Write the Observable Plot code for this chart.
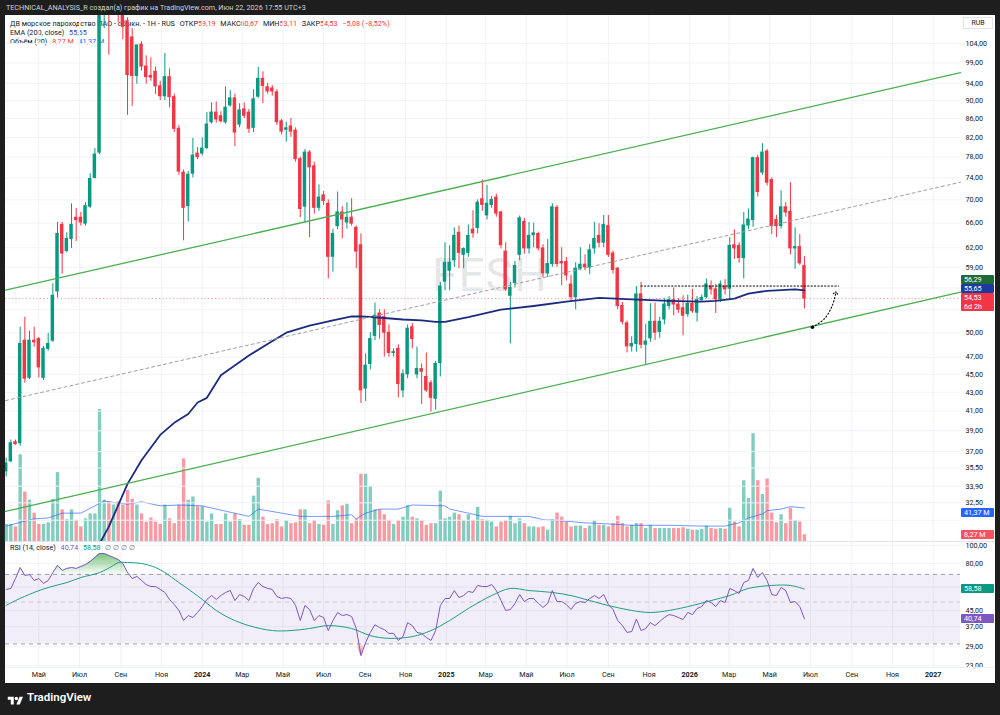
<!DOCTYPE html>
<html><head><meta charset="utf-8">
<script src="https://cdn.jsdelivr.net/npm/d3@7"></script>
<script src="https://cdn.jsdelivr.net/npm/@observablehq/plot@0.6"></script>
<style>
html,body{margin:0;padding:0}
body{width:1000px;height:715px;background:#1e1e1e;overflow:hidden;position:relative;font-family:Roboto,"Noto Sans",sans-serif}
.abs{position:absolute}
.pane{position:absolute;left:0;width:1000px;overflow:hidden}
.box{position:absolute;left:961px;width:33px;color:#fff;font-size:7.2px;line-height:9px;padding-left:3px;box-sizing:border-box;border-radius:1px}
.lg{position:absolute;left:10px;font-size:7.2px;line-height:9px;color:#131722;white-space:nowrap}
.lg span{margin-left:3px}
</style></head><body>
<div class="abs" style="left:5px;top:15px;width:990px;height:668px;background:#fff"></div>
<div class="abs" style="left:6px;top:0;height:15px;line-height:15px;font-size:7.2px;color:#d1d4dc;white-space:nowrap">TECHNICAL_ANALYSIS_R создал(а) график на TradingView.com, Июн 22, 2026 17:55 UTC+3</div>
<div class="abs" style="left:432px;top:252px;font-size:46px;line-height:46px;color:rgba(120,123,134,0.2);letter-spacing:1px">FESH</div>
<div class="lg" style="top:18.5px">ДВ морское пароходство ПАО - обыкн. - 1Н - RUS <span>ОТКР<b style="font-weight:400;color:#f23645">59,19</b></span> <span>МАКС<b style="font-weight:400;color:#f23645">60,67</b></span> <span>МИН<b style="font-weight:400;color:#f23645">53,11</b></span> <span>ЗАКР<b style="font-weight:400;color:#f23645">54,53</b></span> <span style="color:#f23645">−5,08 (−8,52%)</span></div>
<div class="lg" style="top:27.5px">EMA (200, close) <span style="color:#2a3fae">55,65</span></div>
<div class="lg" style="top:36.5px">Объём (20) <span style="color:#f23645">8,27 M</span> <span style="color:#2962ff">41,37 M</span></div>
<div id="volWrap" class="pane" style="top:15px;height:526px"></div>
<div id="mainWrap" class="pane" style="top:15px;height:526px"></div>
<div class="abs" style="left:5px;top:541px;width:990px;height:1px;background:#e0e3eb"></div>
<div id="rsiWrap" class="pane" style="top:541px;height:142px"></div>
<div class="abs" style="left:5px;top:667px;width:990px;height:1px;background:#eef0f3"></div>
<div class="lg" style="top:542.5px">RSI (14, close) <span style="color:#7e57c2">40,74</span> <span style="color:#089981">58,58</span> <span style="color:#787b86">∅ ∅ ∅ ∅</span></div>
<div class="abs" style="left:963px;top:17px;width:30px;height:12px;border:1px solid #e0e3eb;box-sizing:border-box;font-size:7px;line-height:10px;text-align:center;color:#131722;background:#fff">RUB</div>
<div id="labels"></div>
<div class="abs" style="left:7px;top:692px;width:17px;height:12px">
<svg width="17" height="12" viewBox="0 0 36 28"><path d="M14 22H7V11H0V4h14v18z" fill="#fff"/><circle cx="20" cy="8" r="4" fill="#fff"/><path d="M28 22h-8L27.5 4h8L28 22z" fill="#fff"/></svg></div>
<div class="abs" style="left:27px;top:689px;font-size:11.5px;line-height:16px;font-weight:600;color:#fff">TradingView</div>
<script>
// ---------- data (weekly candles from 2023-03-13) ----------
const firstWeek = [2023, 2, 13];
const opens = [35.2,36.1,37.9,37.8,49.0,44.6,49.0,49.2,44.6,48.0,
49.0,55.5,65.7,61.5,63.4,66.9,66.9,65.9,68.8,74.0,
78.9,112,120,114,117,113,110,105.6,95.8,103.7,
98.1,95.8,96.8,93.3,91.0,95.5,90.8,83.8,75.0,68.9,
74.8,78.7,78.7,79.8,85.2,87.3,86.5,85.2,88.9,90.5,
84.7,88.0,87.3,84.0,90.9,95.1,93.1,92.8,91.9,85.4,
83.6,84.3,83.4,77.6,68.8,78.9,76.2,68.6,70.8,69.3,
60.6,65.5,67.8,66.1,66.9,65.2,62.4,43.4,46.2,49.6,
52.5,52.0,50.0,47.5,48.0,43.2,45.0,50.7,45.0,45.6,
44.7,44.0,42.3,46.3,56.9,58.5,60.1,64.4,60.9,61.2,
64.9,65.2,70.1,67.3,69.1,70.4,67.8,61.4,54.9,56.7,
60.9,66.2,61.9,64.0,64.2,61.9,58.1,59.5,68.6,59.8,
59.8,56.5,54.7,58.8,59.4,59.0,61.9,63.9,62.8,65.5,
61.1,58.8,53.5,51.2,48.3,48.6,55.1,48.5,49.3,51.4,
50.1,51.7,53.5,54.3,53.7,53.2,52.4,53.8,52.6,54.3,
54.7,56.2,55.8,54.4,56.2,55.9,62.4,62.3,60.4,65.6,
66.5,77.8,75.0,79.1,73.6,66.5,65.5,68.7,67.9,61.9,
62.1,59.19];
const highs = [36.4,38.1,38.1,50.7,52.0,50.2,50.7,49.4,48.3,49.9,
56.6,66.1,66.1,64.4,69.3,68.5,67.8,69.5,74.8,79.7,
114,122,124,121,119,115,111,108,103.5,104.5,
100.8,100.3,98.0,94.5,101.4,97.5,91.5,84.5,75.5,75.2,
81.8,79.9,81.9,87.3,89.5,89.7,87.5,93.2,92.3,91.5,
89.3,89.5,88.0,92.5,97.9,96.8,94.0,93.5,92.5,85.8,
85.2,86.0,84.0,78.0,79.5,79.3,77.0,72.7,71.5,70.0,
65.0,71.4,68.8,69.5,70.2,65.5,64.2,47.4,50.0,53.9,
53.0,53.0,51.0,48.0,48.5,45.5,51.0,51.2,48.2,46.2,
47.5,44.3,46.5,56.8,62.8,62.3,65.2,65.5,62.0,65.7,
68.1,70.0,73.6,72.6,70.6,71.0,68.0,62.8,56.8,59.9,
67.2,66.8,66.1,66.0,64.5,62.5,63.3,69.3,69.0,62.0,
60.5,57.8,59.7,62.0,60.9,62.5,66.1,65.9,67.3,67.3,
61.5,59.0,54.0,51.5,49.5,56.2,56.8,51.1,53.8,53.9,
52.0,54.5,54.8,56.0,54.5,54.9,55.0,55.8,54.8,55.0,
57.3,57.0,56.5,57.0,57.2,63.6,64.9,62.8,67.8,68.4,
78.0,78.4,80.7,79.5,74.0,67.3,71.6,69.5,73.1,65.2,
64.1,60.67];
const lows = [34.7,36.0,37.6,37.5,44.0,44.4,48.2,44.6,44.3,47.7,
48.8,54.6,58.0,61.2,61.9,63.0,65.5,65.5,68.5,73.8,
78.5,108,101,112,109.7,105,86.7,88.7,93.8,97.0,
93.8,94.5,91.4,90.0,90.0,88.4,83.0,74.5,63.1,66.2,
74.0,77.5,78.2,79.5,84.8,85.0,85.0,84.8,88.5,80.1,
84.0,86.0,82.8,83.0,90.5,89.3,91.5,91.0,84.5,82.5,
81.0,82.0,77.0,66.9,66.0,63.6,67.5,68.0,69.0,57.3,
58.3,64.9,63.4,65.0,65.5,58.8,41.8,42.0,45.5,49.0,
49.2,47.0,47.0,47.0,42.4,42.4,44.5,48.0,44.5,41.7,
43.0,40.9,41.1,44.7,55.6,55.6,59.0,58.8,58.8,60.5,
63.5,64.2,68.0,66.5,68.5,67.0,61.8,55.5,48.6,56.0,
60.0,61.0,61.0,62.0,61.5,57.5,57.5,59.0,59.0,56.3,
57.0,54.0,53.0,58.5,58.5,57.9,61.0,62.0,62.0,60.5,
58.0,53.0,51.0,47.5,47.6,47.6,48.0,46.0,48.8,49.0,
49.3,51.0,53.0,52.2,52.5,49.6,52.0,52.5,51.4,54.0,
54.5,55.0,52.5,54.0,55.0,54.3,60.2,59.6,57.3,64.9,
65.3,70.5,74.5,72.5,64.1,63.6,65.0,67.0,60.9,58.7,
59.3,53.11];
const closes = [35.9,37.8,37.7,48.6,44.5,49.0,48.8,45.8,48.0,48.6,
54.9,64.2,61.1,63.4,65.7,66.5,66.1,68.9,73.8,78.5,
113,119,114,116,113,108.5,96.0,95.8,103.5,98.1,
95.5,95.4,93.3,91.0,95.5,90.8,83.8,75.2,68.6,74.6,
78.3,78.0,79.7,84.7,87.3,85.8,85.4,88.4,90.5,83.0,
87.8,86.6,83.8,90.3,95.1,93.4,92.1,92.1,85.2,83.2,
83.9,83.2,77.6,68.4,78.9,76.0,68.6,70.4,69.8,60.6,
64.2,67.8,66.6,66.9,65.9,61.4,43.2,46.0,49.2,52.2,
51.0,50.0,47.5,47.6,43.9,45.0,50.5,49.2,45.6,45.3,
43.2,42.4,46.2,56.2,59.7,59.7,63.9,61.2,61.8,63.9,
64.3,69.5,69.1,69.3,70.0,67.6,62.4,55.8,56.0,59.2,
66.8,61.9,63.9,64.3,61.9,58.1,59.5,68.7,59.5,59.6,
57.8,54.7,58.8,59.4,59.0,61.6,63.4,62.8,65.7,60.9,
58.6,53.5,51.4,48.3,48.6,55.1,48.5,48.9,51.4,50.0,
51.4,53.7,54.3,53.7,53.0,52.2,53.8,52.8,54.3,54.6,
56.5,55.8,54.4,56.5,55.8,62.3,61.9,60.4,65.6,66.6,
77.8,71.4,78.9,73.1,65.5,65.5,68.7,67.8,61.9,62.1,
59.61,54.53];
const volumesM = [21,21,18,107,61,51,35,21,21,23,
52,85,39,27,39,26,18,28,34,34,
163,51,49,45,49,45,63,52,45,34,
24,29,24,21,45,28,22,45,102,51,
55,43,43,24,34,21,21,34,24,34,
27,20,20,56,78,30,21,22,27,18,
26,22,23,39,39,22,26,21,20,50,
21,38,44,46,22,28,83,83,68,39,
39,33,26,21,26,30,44,30,28,26,
20,22,22,62,28,30,35,33,26,33,
26,42,27,26,24,18,24,26,31,22,
28,22,18,18,17,18,14,27,35,30,
24,18,19,19,16,19,26,20,20,18,
22,31,22,18,20,22,22,16,20,16,
16,16,16,16,16,17,15,14,14,15,
19,16,15,16,15,41,24,18,75,53,
133,75,58,77,35,23,33,22,41,26,
24,8.27];
const rsiValues = [58.3,59.0,66.6,76.2,69.1,69.9,65.0,66.6,62.7,65.0,
71.6,78.2,73.5,75.3,76.2,75.3,77.1,79.0,81.9,86.1,
90.4,90.4,88.2,86.1,84.0,80.0,71.6,66.6,68.3,65.0,
61.9,60.4,60.4,58.3,56.2,51.6,48.5,45.1,39.9,42.4,
41.4,44.0,47.3,51.6,54.1,51.6,54.1,56.2,57.5,50.9,
54.8,53.5,50.9,59.0,63.4,60.4,59.0,58.3,53.5,52.2,
52.8,52.2,47.9,39.9,47.9,45.6,39.9,42.4,41.4,35.3,
39.9,44.0,42.4,42.9,41.9,36.2,26.0,30.5,34.5,37.9,
36.6,35.7,34.1,34.1,31.3,32.8,38.9,37.5,34.5,34.1,
32.4,31.3,35.3,47.9,52.2,52.2,57.5,52.8,54.1,56.9,
56.2,61.2,60.4,60.4,61.9,57.5,50.9,45.1,45.6,49.2,
54.8,50.3,52.2,52.2,49.2,46.8,49.2,57.5,50.3,50.3,
48.5,45.6,49.2,50.3,49.7,52.2,54.1,52.2,54.8,48.5,
45.6,39.9,37.5,34.5,34.9,40.6,35.3,36.2,38.9,37.5,
39.4,41.4,42.9,42.4,41.4,40.4,44.0,42.9,46.2,47.3,
50.9,49.7,47.3,50.9,49.7,59.0,57.5,55.5,63.4,65.0,
75.3,67.4,71.6,65.0,54.8,54.1,59.7,57.5,49.7,50.3,
47.3,40.74];
// indicator readings: [week index, value]
const emaWeek = [20,22,26,29,33,36,39,41,43,46,52,56,60,65,70,74,76,79,83,85,89,92,94,99,106,113,120,127,134,142,149,152,156,159,163,166,169,171];
const emaValue = [29.3,30.6,34.1,36.2,38.6,39.8,40.7,41.9,42.4,44.9,47.2,48.6,50.0,50.9,51.6,52.1,52.1,52.0,51.8,51.7,51.6,51.4,51.4,52.0,53.0,53.5,54.1,54.6,54.4,54.2,54.1,54.2,54.5,55.2,55.6,55.7,55.8,55.65];
const volMaWeek = [0,6,9,12,16,19,21,22,26,29,33,37,42,45,52,54,59,63,67,70,74,75,77,80,84,87,94,95,99,102,106,112,115,120,124,128,134,142,149,154,157,159,162,163,166,168,171];
const volMaValue = [19,28,29,35,35,44,50,49,46,49,44,45,44,40,31,40,35,31,31,31,33,28,35,40,40,45,44,40,35,31,31,31,27,25,23,22,20,20,19,19,23,29,34,38,40,43,41.37];
const rsiMaWeek = [0,2,6,9,13,16,20,23,24,26,29,32,34,37,40,42,45,48,52,57,61,65,69,74,78,82,87,91,95,99,104,108,112,117,121,125,129,134,138,142,147,151,155,159,164,168,171];
const rsiMaValue = [48,50.9,56.2,59.7,63.4,67.4,71.6,78.2,80.9,80.9,80.0,76.2,71.6,63.4,56.2,51.6,45.1,40.9,37.5,35.3,35.3,36.2,37.5,36.2,33.2,32.1,32.8,35.3,39.9,46.2,54.1,59.0,57.5,56.2,54.1,50.9,47.9,45.1,44.0,45.1,47.9,50.9,54.1,59.0,61.2,61.2,58.58];
// drawings
const upperChannel = [["2023-03-12",55.7],["2027-02-11",96.6]];
const middleChannel = [["2023-03-12",42.1],["2027-02-11",73.2]];
const lowerChannel = [["2023-03-12",31.8],["2027-02-11",55.4]];
const levelPrice = 56.29, levelStartWeek = 136, levelEnd = "2026-08-12";
const arrowPath = [["2026-07-04",50.7],["2026-07-22",51.8],["2026-08-03",53.6],["2026-08-08",55.3]];
// axes (ticks hidden under value labels keep only their grid line)
const priceTicks = [104,99,94,90,86,82,78,74,70,66,62,59,56,53,50,47,45,43,41,39,37,35.5,33.9,32.5,31.1];
const priceTicksHidden = [56,53,31.1];
const rsiTicks = [100,80,60,45,37,29,23];
const rsiTicksHidden = [60];
const rsiLevels = [70,50,30];
const monthNames = ["Янв","Фев","Мар","Апр","Май","Июн","Июл","Авг","Сен","Окт","Ноя","Дек"];
const lastClose = 54.53, emaLast = 55.65, volLast = 8.27, volMaLast = 41.37, rsiLast = 40.74, rsiMaLast = 58.58;

// ---------- build ----------
const UP = "#089981", DN = "#f23645";
const DAY = 864e5;
const weekDate = i => new Date(Date.UTC(firstWeek[0], firstWeek[1], firstWeek[2] + 7 * i));
const candles = opens.map((o, i) => ({date: weekDate(i), open: o, high: highs[i], low: lows[i], close: closes[i], volume: volumesM[i], up: closes[i] >= o}));
const pairs = (w, v) => w.map((k, j) => ({date: weekDate(k), v: v[j]}));
const emaData = pairs(emaWeek, emaValue), volMaData = pairs(volMaWeek, volMaValue), rsiMaData = pairs(rsiMaWeek, rsiMaValue);
const rsiData = rsiValues.map((v, i) => ({date: weekDate(i), v}));
const seg = a => a.map(([d, v]) => ({date: new Date(d), v}));
const xDomain = [new Date("2023-03-12"), new Date("2027-02-11")];
const monthTicks = d3.utcMonth.every(2).range(new Date("2023-04-01"), new Date("2027-02-01"));
const fmt2 = v => v.toFixed(2).replace(".", ",");
const GRID = "#f0f2f6", TXT = "#131722", FS = 7.2;
const common = {width: 1000, marginLeft: 5, marginRight: 40, marginTop: 0, x: {type: "utc", domain: xDomain, axis: null}, color: {type: "identity"}, style: {background: "transparent", fontFamily: "Roboto, 'Noto Sans', sans-serif", overflow: "hidden"}};

const volPlot = Plot.plot({...common, height: 526, marginBottom: 0,
  y: {domain: [0, 649], axis: null},
  marks: [
    Plot.gridX(monthTicks, {stroke: GRID, strokeOpacity: 1}),
    Plot.ruleX(candles, {x: "date", y1: 0, y2: "volume", stroke: d => d.up ? UP : DN, strokeOpacity: 0.5, strokeWidth: 3.4}),
    Plot.line(volMaData, {x: "date", y: "v", stroke: "#2962ff", strokeOpacity: 0.65, strokeWidth: 1})
  ]});
document.getElementById("volWrap").appendChild(volPlot);

const mainPlot = Plot.plot({...common, height: 526, marginBottom: 0,
  y: {type: "log", domain: [29.47, 111.64], axis: null},
  marks: [
    Plot.gridY(priceTicks, {stroke: GRID, strokeOpacity: 1}),
    Plot.ruleY([lastClose], {stroke: DN, strokeOpacity: 0.6, strokeDasharray: "1,2.5", strokeWidth: 0.9}),
    Plot.ruleX(candles, {x: "date", y1: "low", y2: "high", stroke: d => d.up ? UP : DN, strokeWidth: 1, clip: true}),
    Plot.rect(candles, {x1: d => new Date(+d.date - 2.6 * DAY), x2: d => new Date(+d.date + 2.6 * DAY), y1: "open", y2: "close", fill: d => d.up ? UP : DN, insetTop: -0.5, insetBottom: -0.5, clip: true}),
    Plot.line(emaData, {x: "date", y: "v", stroke: "#1c2b7f", strokeWidth: 1.8, clip: true}),
    Plot.line(seg(upperChannel), {x: "date", y: "v", stroke: "#4caf50", strokeWidth: 1.3}),
    Plot.line(seg(lowerChannel), {x: "date", y: "v", stroke: "#4caf50", strokeWidth: 1.3}),
    Plot.line(seg(middleChannel), {x: "date", y: "v", stroke: "#a0a0a0", strokeWidth: 1, strokeDasharray: "3,3"}),
    Plot.line([{date: weekDate(levelStartWeek), v: levelPrice}, {date: new Date(levelEnd), v: levelPrice}], {x: "date", y: "v", stroke: "#000", strokeWidth: 1.1, strokeDasharray: "1.2,2.2"}),
    Plot.line(seg(arrowPath), {x: "date", y: "v", stroke: "#000", strokeWidth: 1.1, strokeDasharray: "1.2,2.2", curve: "catmull-rom", markerEnd: "arrow"}),
    Plot.dot(seg(arrowPath).slice(0, 1), {x: "date", y: "v", r: 1.8, fill: "#000"}),
    Plot.text(priceTicks.filter(t => !priceTicksHidden.includes(t)), {y: d => d, text: fmt2, frameAnchor: "right", dx: 5, textAnchor: "start", fontSize: FS, fill: TXT})
  ]});
document.getElementById("mainWrap").appendChild(mainPlot);

const rsiBand = [{from: xDomain[0], to: xDomain[1], lo: 30, hi: 70}];
const rsiPlot = Plot.plot({...common, height: 142, marginBottom: 16,
  y: {type: "log", domain: [22.5, 104.6], axis: null},
  marks: [
    Plot.gridX(monthTicks, {stroke: GRID, strokeOpacity: 1}),
    Plot.gridY(rsiTicks, {stroke: GRID, strokeOpacity: 1}),
    Plot.rect(rsiBand, {x1: "from", x2: "to", y1: "lo", y2: "hi", fill: "#7e57c2", fillOpacity: 0.1}),
    Plot.ruleY(rsiLevels, {stroke: "#787b86", strokeOpacity: d => d === 50 ? 0.35 : 0.7, strokeDasharray: "4,4"}),
    Plot.areaY(rsiData, {x: "date", y1: 70, y2: d => Math.max(70, d.v), fill: "url(#obGrad)"}),
    Plot.areaY(rsiData, {x: "date", y1: 30, y2: d => Math.min(30, d.v), fill: "url(#osGrad)"}),
    Plot.line(rsiMaData, {x: "date", y: "v", stroke: "#1e9e86", strokeWidth: 1, curve: "catmull-rom"}),
    Plot.line(rsiData, {x: "date", y: "v", stroke: "#7e57c2", strokeWidth: 1}),
    Plot.text(rsiTicks.filter(t => !rsiTicksHidden.includes(t)), {y: d => d, text: fmt2, frameAnchor: "right", dx: 5, textAnchor: "start", fontSize: FS, fill: TXT}),
    Plot.text(monthTicks.filter(d => d.getUTCMonth() !== 0), {x: d => d, text: d => monthNames[d.getUTCMonth()], frameAnchor: "bottom", dy: 9, fontSize: FS, fill: TXT}),
    Plot.text(monthTicks.filter(d => d.getUTCMonth() === 0), {x: d => d, text: d => String(d.getUTCFullYear()), frameAnchor: "bottom", dy: 9, fontSize: FS, fontWeight: "bold", fill: TXT})
  ]});
const defs = document.createElementNS("http://www.w3.org/2000/svg", "defs");
defs.innerHTML = '<linearGradient id="obGrad" x1="0" y1="0" x2="0" y2="1"><stop offset="0" stop-color="#4caf50" stop-opacity="0.75"/><stop offset="1" stop-color="#4caf50" stop-opacity="0.04"/></linearGradient><linearGradient id="osGrad" x1="0" y1="1" x2="0" y2="0"><stop offset="0" stop-color="#f23645" stop-opacity="0.75"/><stop offset="1" stop-color="#f23645" stop-opacity="0.04"/></linearGradient>';
rsiPlot.insertBefore(defs, rsiPlot.firstChild);
document.getElementById("rsiWrap").appendChild(rsiPlot);

// ---------- price-scale value labels ----------
const L = document.getElementById("labels");
function box(yCenter, html, bg, lines = 1) {
  const d = document.createElement("div");
  d.className = "box";
  d.style.top = (yCenter - 4.5) + "px";
  d.style.height = (9 * lines) + "px";
  d.style.background = bg;
  d.innerHTML = html;
  L.appendChild(d);
}
const yMain = v => 15 + mainPlot.scale("y").apply(v);
const yVol = v => 15 + volPlot.scale("y").apply(v);
const yRsi = v => 541 + rsiPlot.scale("y").apply(v);
const yc = yMain(lastClose);
const ye = Math.min(yMain(emaLast), yc - 9);
const yl = Math.min(yMain(levelPrice), ye - 9);
box(yl, fmt2(levelPrice), "#1e6b3a");
box(ye, fmt2(emaLast), "#1c3aa0");
box(yc, fmt2(lastClose) + "<br>6d 2h", DN, 2);
const yvm = Math.max(yVol(volMaLast), yMain(32.5) + 10);
box(yvm, fmt2(volMaLast) + " M", "#2962ff");
box(Math.max(yVol(volLast), yvm + 20), fmt2(volLast) + " M", "#f7525f");
box(yRsi(rsiMaLast), fmt2(rsiMaLast), "#089981");
box(yRsi(rsiLast), fmt2(rsiLast), "#7e57c2");
</script>
</body></html>
